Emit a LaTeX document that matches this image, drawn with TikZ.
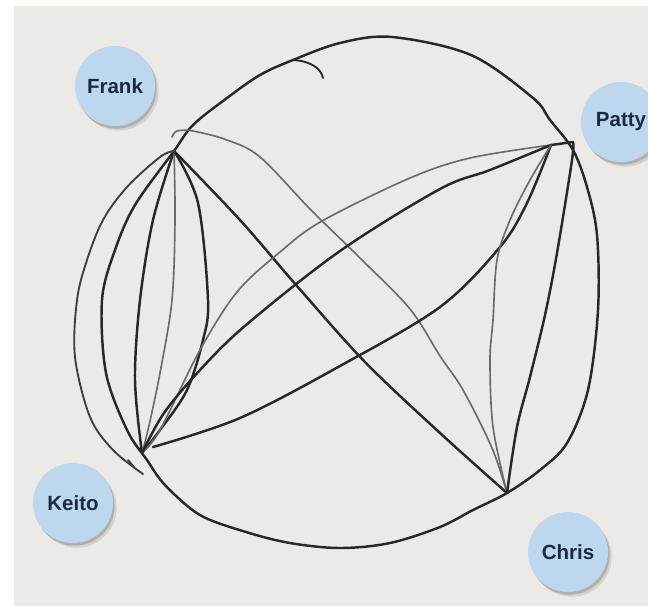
\documentclass[tikz,border=0pt]{standalone}
\usepackage{fontspec}
\setmainfont{Liberation Sans}
\usetikzlibrary{shadows}
\definecolor{paper}{HTML}{ECEAE7}
\definecolor{inkd}{HTML}{2B2724}
\definecolor{inkg}{HTML}{6E6A64}
\definecolor{bubble}{HTML}{BDD7EE}
\definecolor{navy}{HTML}{1A2B40}
\begin{document}
\begin{tikzpicture}[x=0.03cm,y=-0.03cm,
  inkline/.style={draw=inkd, line width=2.1pt, line cap=round, line join=round},
  pencil/.style={draw=inkg, line width=1.4pt, line cap=round, line join=round},
  thinink/.style={draw=inkd!90!white, line width=1.6pt, line cap=round, line join=round},
  person/.style={circle, fill=bubble, minimum size=2.4cm, inner sep=0pt, text=navy,
     font=\bfseries\fontsize{17.5}{20}\selectfont,
     drop shadow={shadow xshift=0.05cm, shadow yshift=-0.08cm, opacity=0.16, fill=black},
     drop shadow={shadow xshift=0.11cm, shadow yshift=-0.14cm, opacity=0.10, fill=black}}]
\useasboundingbox (0,0) rectangle (648,606);
\clip (0,0) rectangle (648,606);
\fill[white] (0,0) rectangle (648,606);
\fill[paper] (14,6) rectangle (648,606);

% vertices
\coordinate (F) at (174,151);
\coordinate (P) at (551,145);
\coordinate (Pt) at (573,142);
\coordinate (K) at (142,453);
\coordinate (C) at (507,493);
\coordinate (h1) at (293,60);
\coordinate (h2) at (323,78);
\coordinate (fc0) at (172,137);
\coordinate (kp0) at (153,447);
\coordinate (lk1) at (128,460);
\coordinate (lk2) at (134,467);

% outer loop
\draw[inkline] plot[smooth cycle, tension=0.55] coordinates {
 (F) (193,125) (227,98) (260,75) (293,60) (340,43) (392,37) (471,55) (533,98)
 (550,120) (573,150) (587,187) (597,235) (598,310) (588,390) (567,443) (540,470)
 (C) (473,510) (440,527) (390,543) (340,548) (290,543) (246,532) (200,515)
 (165,485) (147,460) (127,430) (106,373) (102,300) (115,250) (135,205)};
% small hook at the top
\draw[inkline, line width=1.6pt] (h1) .. controls (310,61) and (321,68) .. (h2);

% F -- C, thin curve
\draw[pencil] plot[smooth, tension=0.55] coordinates {
 (fc0) (177,131) (193,131) (227,140) (260,157) (311,210) (360,258) (410,309) (440,356) (463,390) (492,448) (C)};
% F -- C, straight
\draw[inkline] plot[smooth, tension=0.55] coordinates {
 (F) (240,220) (297,286) (365,362) (440,433) (C)};

% F -- K
\draw[inkline] plot[smooth, tension=0.55] coordinates {
 (F) (153,220) (140,300) (135,380) (K)};
\draw[pencil] plot[smooth, tension=0.55] coordinates {
 (F) (175,220) (172,300) (160,373) (148,430) (K)};
\draw[inkline] plot[smooth, tension=0.55] coordinates {
 (F) (198,203) (208,300) (203,340) (187,390) (160,430) (K)};
\draw[thinink] plot[smooth, tension=0.55] coordinates {
 (F) (160,157) (127,187) (103,220) (87,260) (77,300) (75,357) (90,417) (113,450) (143,474)};
\draw[thinink] (lk1) -- (lk2);

% K -- P
\draw[pencil] plot[smooth, tension=0.55] coordinates {
 (K) (160,430) (200,350) (237,292) (280,252) (322,221) (410,178) (470,158) (P)};
\draw[inkline] plot[smooth, tension=0.55] coordinates {
 (K) (164,413) (200,370) (246,325) (340,251) (440,189) (490,170) (P)};
\draw[inkline] plot[smooth, tension=0.55] coordinates {
 (kp0) (240,418) (340,366) (440,307) (500,247) (527,203) (P)};

% P -- C
\draw[inkline] (P) -- (Pt);
\draw[pencil] plot[smooth, tension=0.55] coordinates {
 (P) (530,180) (510,220) (497,260) (493,320) (490,360) (493,427) (C)};
\draw[inkline] plot[smooth, tension=0.55] coordinates {
 (Pt) (572,160) (557,253) (545,315) (530,377) (517,427) (C)};

% people
\node[person] (Frank) at (115,86) {Frank};
\node[person] (Patty) at (621,122) {Patty};
\node[person] (Keito) at (73,503) {Keito};
\node[person] (Chris) at (568,552) {Chris};
\end{tikzpicture}
\end{document}
